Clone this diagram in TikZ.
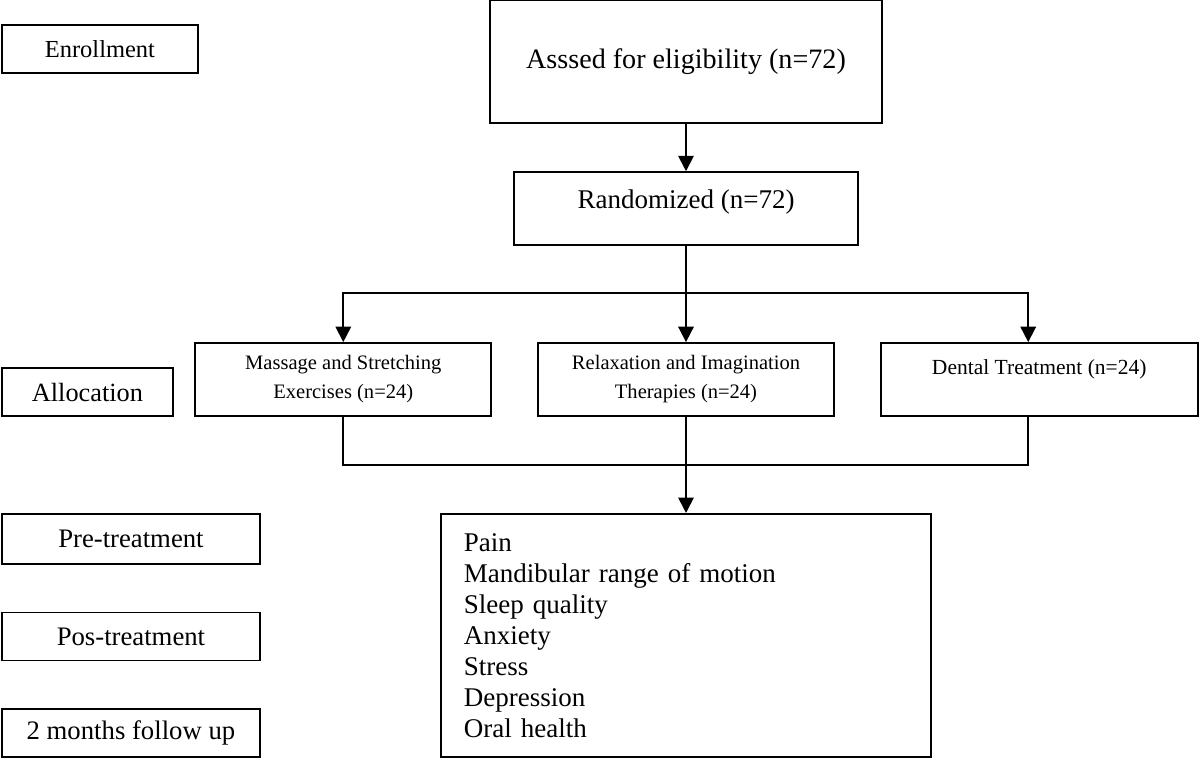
\documentclass[tikz,border=0pt]{standalone}
\usepackage{fontspec}
\setmainfont{Liberation Serif}
\usetikzlibrary{positioning, arrows.meta}

\begin{document}
\begin{tikzpicture}[x=0.025cm, y=-0.025cm, -, line width=1.3pt,
  box/.style={draw, rectangle, inner sep=0pt, align=center},
  stage/.style={box, minimum height=1.2cm, font=\fontsize{19}{22}\selectfont},
  arm/.style={box, minimum width=7.4cm, minimum height=1.825cm, font=\fontsize{14.6}{20.6}\selectfont},
  go/.style={-{Triangle[length=11pt,width=11pt]}}]
\useasboundingbox (0,0) rectangle (1200,760);

			% main column
			\node[box, minimum width=9.8cm, minimum height=3.075cm, line width=2pt, font=\fontsize{20}{24}\selectfont] (assess) at (686,61.5) {Asssed for eligibility (n=72)};
			\node[box, below=1.17cm of assess, minimum width=8.6cm, minimum height=1.825cm, text depth=13.3pt, font=\fontsize{19.2}{22}\selectfont] (rand) {Randomized (n=72)};
			\node[arm, below=2.4cm of rand] (relax) {Relaxation and Imagination\\Therapies (n=24)};
			\node[arm, left=1.12cm of relax] (mass) {Massage and Stretching\\Exercises (n=24)};
			\node[arm, right=1.12cm of relax, minimum width=7.925cm, text depth=18pt, font=\fontsize{15.3}{17.8}\selectfont] (dental) {Dental Treatment (n=24)};
			\node[box, below=2.4cm of relax, text width=11.1cm, inner xsep=0.575cm, minimum height=6.075cm, align=left, font=\fontsize{19.2}{22}\selectfont] (outcomes) {Pain\\Mandibular range of motion\\Sleep quality\\Anxiety\\Stress\\Depression\\Oral health};
			
			% left column
			\node[stage, anchor=west, minimum width=4.9cm, font=\fontsize{17.4}{20}\selectfont] (enroll) at (1,49) {Enrollment};
			\node[stage, anchor=south west, minimum width=4.275cm, font=\fontsize{18.7}{22}\selectfont] (alloc) at (mass.south -| enroll.west) {Allocation};
			\node[stage, anchor=north west, minimum width=6.45cm, minimum height=1.25cm] (pre) at (outcomes.north -| enroll.west) {Pre-treatment};
			\node[stage, below=1.17cm of pre, minimum width=6.45cm] (pos) {Pos-treatment};
			\node[stage, below=1.17cm of pos, minimum width=6.45cm] (follow) {2 months follow up};
			
			\coordinate (split) at (686,293);
			\coordinate (join) at (686,465);
			
			\draw[go] (assess) -- (rand);
			\draw (rand.south) -- (split);
			\draw[go] (split) -- (relax);
			\draw[go] (split) -| (mass.north);
			\draw[go] (split) -| ([xshift=-0.275cm]dental.north);
			\draw (mass.south) |- (join) -| ([xshift=-0.275cm]dental.south);
			\draw[go] (relax.south) -- (relax.south |- outcomes.north);
			
		\end{tikzpicture}
\end{document}
